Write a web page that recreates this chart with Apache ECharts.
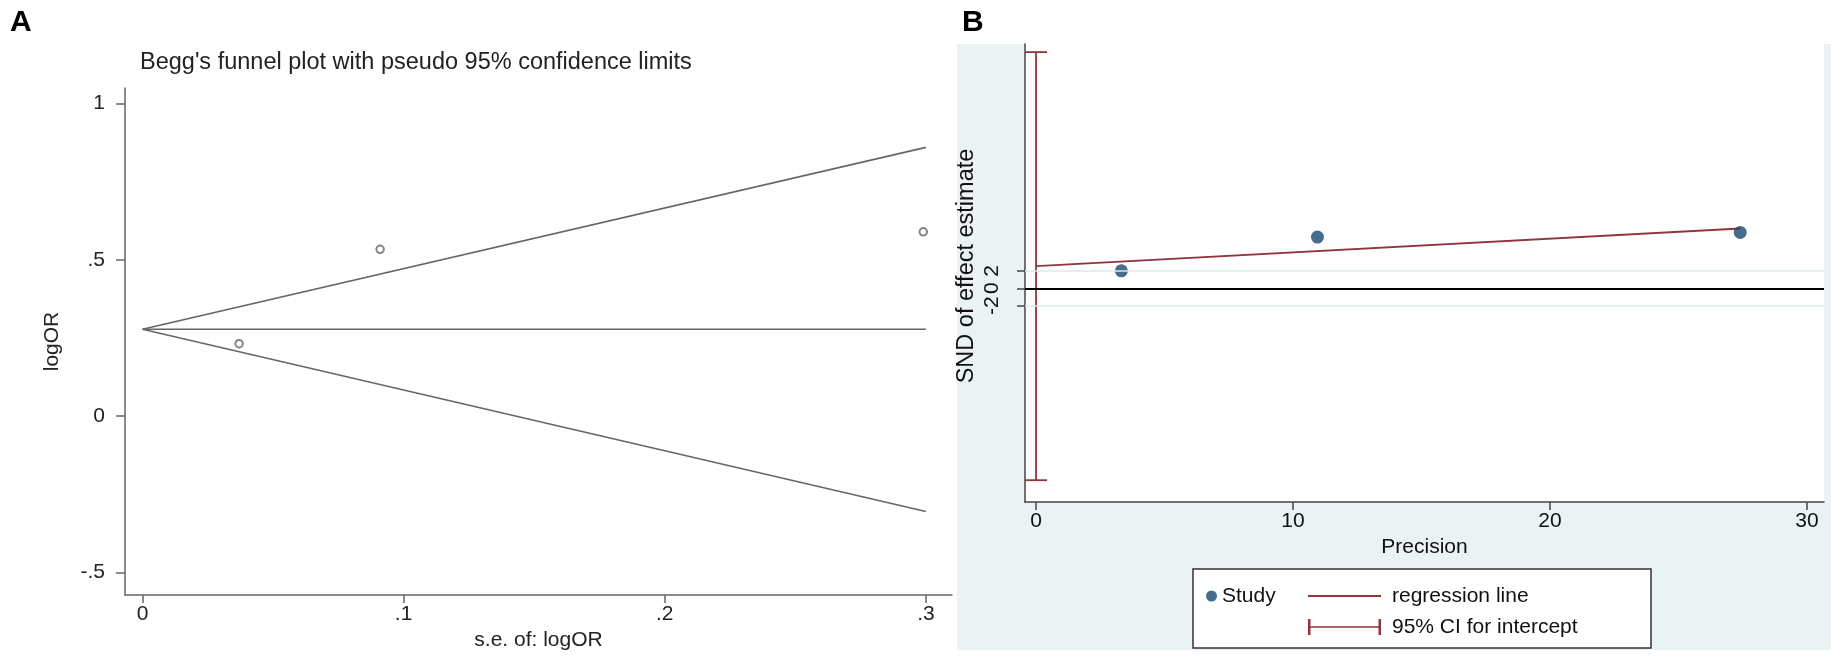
<!DOCTYPE html>
<html>
<head>
<meta charset="utf-8">
<title>Begg's funnel plot and Egger's regression</title>
<script src="https://cdn.jsdelivr.net/npm/echarts@6/dist/echarts.min.js"></script>
<style>
html, body { margin: 0; padding: 0; background: #fff; }
#main { width: 1831px; height: 656px; }
</style>
</head>
<body>
<div id="main"></div>
<script>
// panel A - Begg's funnel plot
var seLogOR = [0.037, 0.091, 0.299];
var logOR = [0.232, 0.534, 0.59];
var funnelSe = [0, 0.3];
var funnelMid = [0.278, 0.278];
var funnelUpper = [0.278, 0.86];
var funnelLower = [0.278, -0.305];
var aXTicks = [0, 0.1, 0.2, 0.3];
var aXLabels = ['0', '.1', '.2', '.3'];
var aYTicks = [-0.5, 0, 0.5, 1];
var aYLabels = ['-.5', '0', '.5', '1'];

// panel B - Egger's regression (SND vs precision)
var precision = [3.32, 10.95, 27.4];
var snd = [2.0, 5.87, 6.4];
var regX = [0, 27.4];
var regY = [2.53, 6.85];
var ciX = [0];
var ciLow = [-22.0];
var ciHigh = [27.07];
var bXTicks = [0, 10, 20, 30];
var bXLabels = ['0', '10', '20', '30'];
var bYTicks = [-2, 0, 2];
var bYLabels = ['-2', '0', '2'];

var FONT = '"Liberation Sans", Arial, sans-serif';
var GRAY = '#666';
var MAROON = '#90353b';
var NAVY = '#1a476f';
var BG = '#eaf2f3';

function pairs(xs, ys) {
    var out = [];
    for (var i = 0; i < xs.length; i++) out.push([xs[i], ys[i]]);
    return out;
}
function labelOf(ticks, labels) {
    return function (v) {
        for (var i = 0; i < ticks.length; i++) {
            if (Math.abs(ticks[i] - v) < 1e-6) return labels[i];
        }
        return '';
    };
}

var chart = echarts.init(document.getElementById('main'));

var option = {
    backgroundColor: '#fff',
    animation: false,
    textStyle: { fontFamily: FONT, color: '#222' },
    title: [{
        text: "Begg's funnel plot with pseudo 95% confidence limits",
        left: 135, top: 46,
        textStyle: { fontFamily: FONT, fontSize: 23.5, fontWeight: 'normal', color: '#222' }
    }],
    graphic: [
        // panel B background
        { type: 'rect', z: -10, shape: { x: 957, y: 44, width: 874, height: 606 }, style: { fill: BG } },
        { type: 'text', left: 10, top: 8, style: { text: 'A', font: 'bold 30px ' + FONT, fill: '#000' } },
        { type: 'text', left: 962, top: 8, style: { text: 'B', font: 'bold 30px ' + FONT, fill: '#000' } },
        // legend frame
        { type: 'rect', z: 5, shape: { x: 1193, y: 569, width: 458, height: 79 },
          style: { fill: '#fff', stroke: '#333', lineWidth: 1.5 } }
    ],
    legend: [{
        data: [{ name: 'Study', icon: 'circle' }],
        left: 1206, top: 584, padding: 0, z: 10,
        itemWidth: 11, itemHeight: 11, selectedMode: false,
        textStyle: { fontSize: 21, color: '#111', lineHeight: 24 }
    }, {
        data: [{ name: 'regression line', icon: 'path://M0,0h73v2h-73z', itemStyle: { color: MAROON } }],
        left: 1308, top: 584, padding: 0, z: 10,
        itemWidth: 73, itemHeight: 2, selectedMode: false,
        textStyle: { fontSize: 21, color: '#111', lineHeight: 24, padding: [0, 0, 0, 6] }
    }, {
        data: [{
            name: '95% CI for intercept',
            icon: 'path://M0,0h2.5v16h-2.5z M0,7.2h73v1.6h-73z M70.5,0h2.5v16h-2.5z',
            itemStyle: { color: MAROON }
        }],
        left: 1308, top: 615, padding: 0, z: 10,
        itemWidth: 73, itemHeight: 17, selectedMode: false,
        textStyle: { fontSize: 21, color: '#111', lineHeight: 24, padding: [0, 0, 0, 6] }
    }],
    grid: [
        { left: 125, top: 88, width: 827, height: 516 },
        { left: 1025, top: 44, width: 799, height: 458, show: true, backgroundColor: '#fff', borderWidth: 0 }
    ],
    xAxis: [{
        gridIndex: 0, type: 'value', min: -0.0067, max: 0.31,
        name: 's.e. of: logOR', nameLocation: 'middle', nameGap: 35,
        nameTextStyle: { fontSize: 21, color: '#222' },
        axisLine: { onZero: false, lineStyle: { color: GRAY, width: 1.5 } },
        axisTick: { customValues: aXTicks, length: 8, lineStyle: { color: GRAY, width: 1.5 } },
        axisLabel: { customValues: aXTicks, formatter: labelOf(aXTicks, aXLabels), fontSize: 21, color: '#222', margin: 9 },
        splitLine: { show: false }
    }, {
        gridIndex: 1, type: 'value', min: -0.43, max: 30.66,
        name: 'Precision', nameLocation: 'middle', nameGap: 35,
        nameTextStyle: { fontSize: 21, color: '#111' },
        axisLine: { onZero: false, lineStyle: { color: '#444', width: 1.5 } },
        axisTick: { customValues: bXTicks, length: 8, lineStyle: { color: '#444', width: 1.5 } },
        axisLabel: { customValues: bXTicks, formatter: labelOf(bXTicks, bXLabels), fontSize: 21, color: '#111', margin: 9 },
        splitLine: { show: false }
    }],
    yAxis: [{
        gridIndex: 0, type: 'value', min: -0.572, max: 1.050,
        name: 'logOR', nameLocation: 'middle', nameGap: 62,
        nameTextStyle: { fontSize: 21, color: '#222' },
        axisLine: { onZero: false, lineStyle: { color: GRAY, width: 1.5 } },
        axisTick: { customValues: aYTicks, length: 9, lineStyle: { color: GRAY, width: 1.5 } },
        axisLabel: { customValues: aYTicks, formatter: labelOf(aYTicks, aYLabels), fontSize: 21, color: '#222', margin: 20 },
        splitLine: { show: false }
    }, {
        gridIndex: 1, type: 'value', min: -24.5, max: 28.0,
        name: 'SND of effect estimate', nameLocation: 'middle', nameGap: 46,
        nameTextStyle: { fontSize: 23.5, color: '#111', padding: [0, 0, 0, 14] },
        axisLine: { onZero: false, lineStyle: { color: '#444', width: 1.5 } },
        axisTick: { customValues: bYTicks, length: 8, lineStyle: { color: '#444', width: 1.5 } },
        axisLabel: { customValues: bYTicks, formatter: labelOf(bYTicks, bYLabels), rotate: 90, fontSize: 21, color: '#111', margin: 22 },
        splitLine: { show: false }
    }],
    series: [{
        name: 'upper limit', type: 'line', xAxisIndex: 0, yAxisIndex: 0,
        data: pairs(funnelSe, funnelUpper), symbol: 'none', silent: true,
        lineStyle: { color: GRAY, width: 1.6 }
    }, {
        name: 'pooled', type: 'line', xAxisIndex: 0, yAxisIndex: 0,
        data: pairs(funnelSe, funnelMid), symbol: 'none', silent: true,
        lineStyle: { color: GRAY, width: 1.6 }
    }, {
        name: 'lower limit', type: 'line', xAxisIndex: 0, yAxisIndex: 0,
        data: pairs(funnelSe, funnelLower), symbol: 'none', silent: true,
        lineStyle: { color: GRAY, width: 1.6 }
    }, {
        name: 'studies', type: 'scatter', xAxisIndex: 0, yAxisIndex: 0,
        data: pairs(seLogOR, logOR), symbol: 'emptyCircle', symbolSize: 7.5, z: 4,
        itemStyle: { color: GRAY, borderColor: GRAY, borderWidth: 1.3 }
    }, {
        name: 'regression line', type: 'line', xAxisIndex: 1, yAxisIndex: 1,
        data: pairs(regX, regY), symbol: 'none', z: 3,
        lineStyle: { color: MAROON, width: 1.8 },
        itemStyle: { color: MAROON },
        markLine: {
            silent: true, symbol: ['none', 'none'], label: { show: false },
            data: [
                { yAxis: 2, lineStyle: { color: '#dde8ec', width: 1.5, type: 'solid' } },
                { yAxis: -2, lineStyle: { color: '#dde8ec', width: 1.5, type: 'solid' } },
                { yAxis: 0, lineStyle: { color: '#000', width: 1.8, type: 'solid' } }
            ]
        }
    }, {
        name: '95% CI for intercept', type: 'custom', xAxisIndex: 1, yAxisIndex: 1,
        data: ciX.map(function (x, i) { return [x, ciLow[i], ciHigh[i]]; }),
        encode: { x: 0, y: [1, 2] },
        itemStyle: { color: MAROON },
        z: 3,
        renderItem: function (params, api) {
            var lo = api.coord([api.value(0), api.value(1)]);
            var hi = api.coord([api.value(0), api.value(2)]);
            var w = 11;
            var st = { stroke: MAROON, lineWidth: 1.8 };
            return {
                type: 'group',
                children: [
                    { type: 'line', shape: { x1: lo[0], y1: lo[1], x2: hi[0], y2: hi[1] }, style: st },
                    { type: 'line', shape: { x1: lo[0] - w, y1: lo[1], x2: lo[0] + w, y2: lo[1] }, style: st },
                    { type: 'line', shape: { x1: hi[0] - w, y1: hi[1], x2: hi[0] + w, y2: hi[1] }, style: st }
                ]
            };
        }
    }, {
        name: 'Study', type: 'scatter', xAxisIndex: 1, yAxisIndex: 1,
        data: pairs(precision, snd), symbol: 'circle', symbolSize: 13, z: 4,
        itemStyle: { color: NAVY }
    }]
};

chart.setOption(option);
</script>
</body>
</html>
